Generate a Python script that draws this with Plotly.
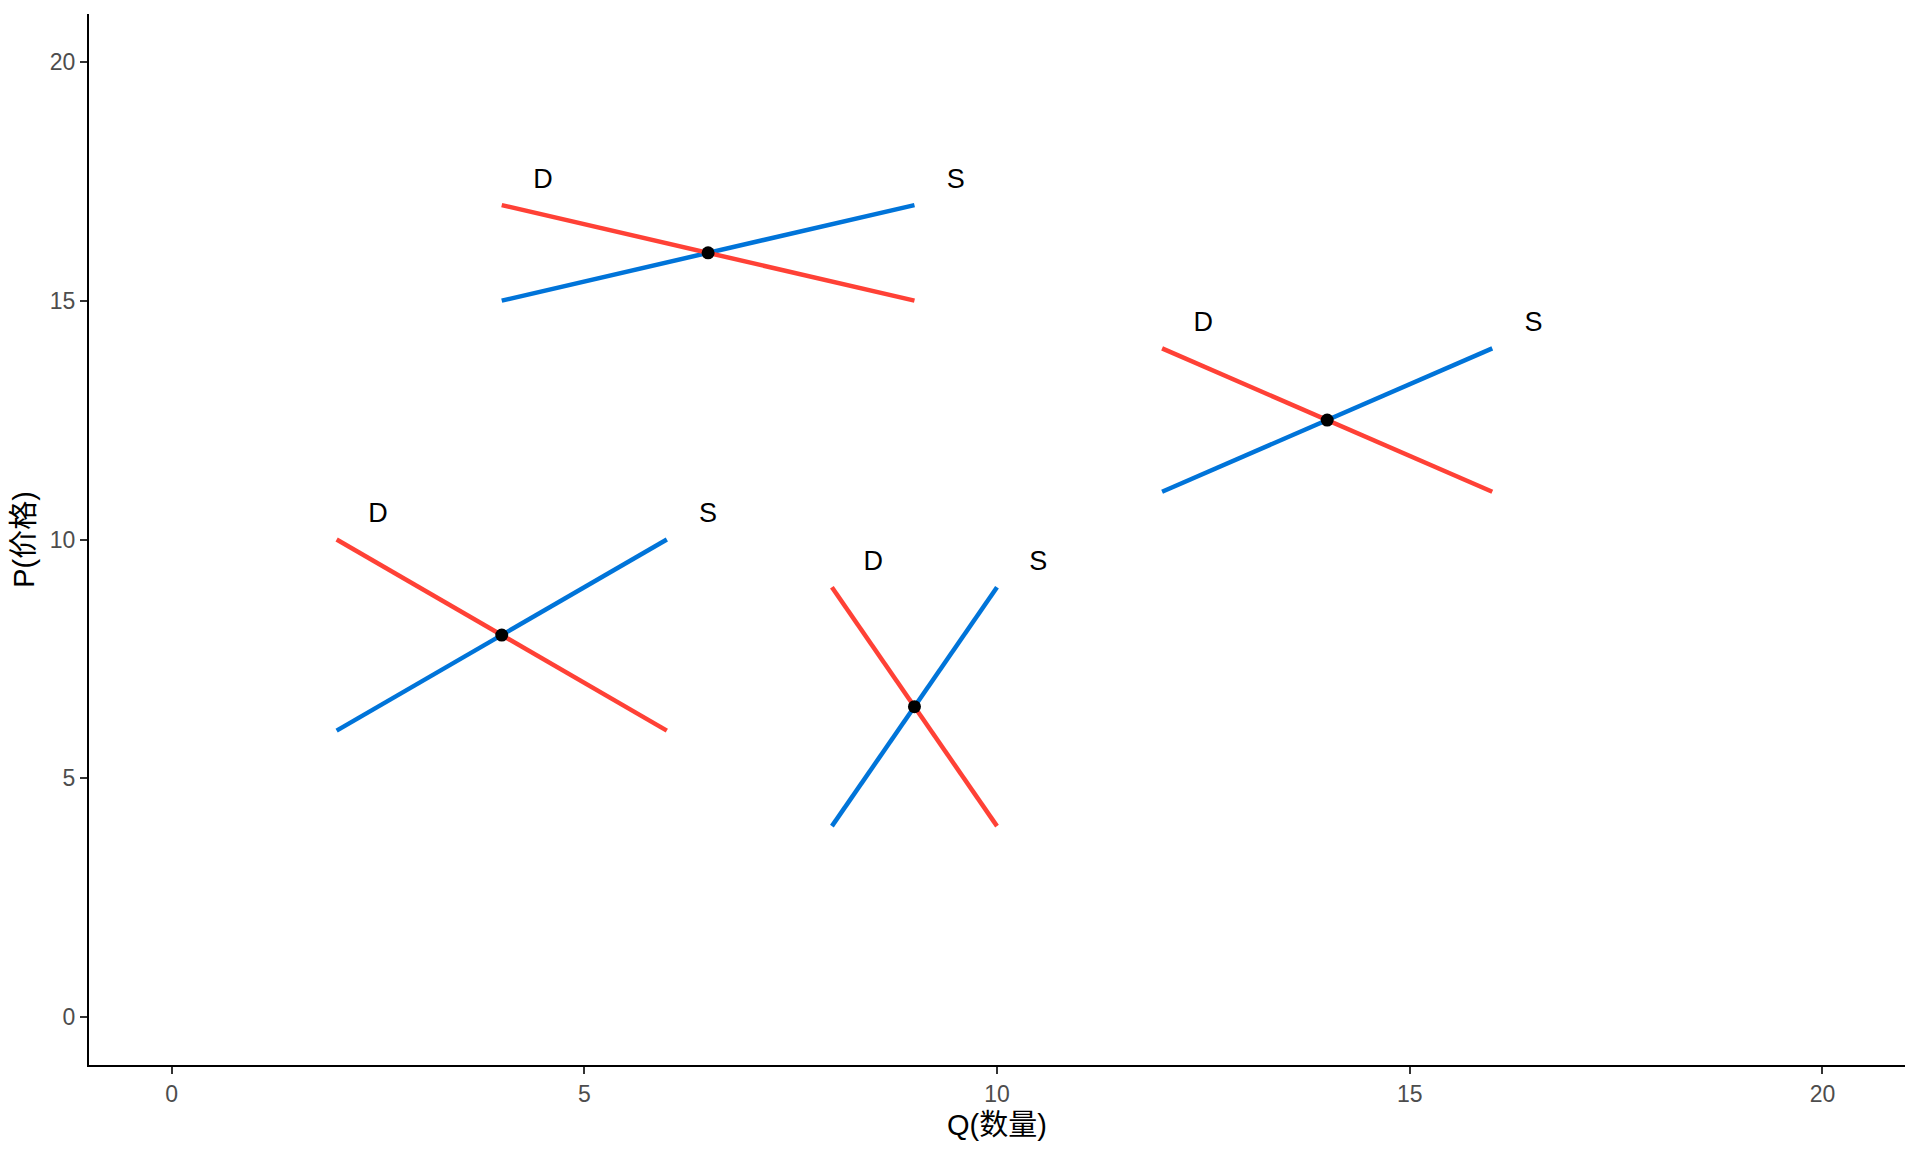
import plotly.graph_objects as go

# Demand curves: start/end points (Q, P)
d_q0 = [4, 12, 2, 8]
d_p0 = [17, 14, 10, 9]
d_q1 = [9, 16, 6, 10]
d_p1 = [15, 11, 6, 4]

# Supply curves: start/end points (Q, P)
s_q0 = [4, 12, 2, 8]
s_p0 = [15, 11, 6, 4]
s_q1 = [9, 16, 6, 10]
s_p1 = [17, 14, 10, 9]

# Equilibrium points
eq_q = [6.5, 14, 4, 9]
eq_p = [16, 12.5, 8, 6.5]

# Curve labels
d_lab_q = [4.5, 12.5, 2.5, 8.5]
d_lab_p = [17.5, 14.5, 10.5, 9.5]
s_lab_q = [9.5, 16.5, 6.5, 10.5]
s_lab_p = [17.5, 14.5, 10.5, 9.5]

ticks = [0, 5, 10, 15, 20]

RED = "#FF4136"
BLUE = "#0074D9"
FONT = "Liberation Sans, Arial, Noto Sans CJK SC"


def seg(a0, a1):
    out = []
    for u, v in zip(a0, a1):
        out += [u, v, None]
    return out


fig = go.Figure()
fig.add_trace(go.Scatter(x=seg(s_q0, s_q1), y=seg(s_p0, s_p1), mode="lines",
                         line=dict(color=BLUE, width=4.5), hoverinfo="skip"))
fig.add_trace(go.Scatter(x=seg(d_q0, d_q1), y=seg(d_p0, d_p1), mode="lines",
                         line=dict(color=RED, width=4.5), hoverinfo="skip"))
fig.add_trace(go.Scatter(x=eq_q, y=eq_p, mode="markers",
                         marker=dict(color="black", size=13)))
fig.add_trace(go.Scatter(x=d_lab_q, y=d_lab_p, mode="text", text=["D"] * len(d_lab_q),
                         textfont=dict(size=27, color="black", family=FONT)))
fig.add_trace(go.Scatter(x=s_lab_q, y=s_lab_p, mode="text", text=["S"] * len(s_lab_q),
                         textfont=dict(size=27, color="black", family=FONT)))

axis_common = dict(
    showgrid=False, zeroline=False, showline=True, linecolor="black", linewidth=2,
    ticks="outside", ticklen=7, tickwidth=2, tickcolor="#333333",
    tickfont=dict(size=23, color="#4D4D4D", family=FONT),
    tickvals=ticks, ticktext=[str(t) for t in ticks],
)

fig.update_layout(
    width=1912, height=1144,
    paper_bgcolor="white", plot_bgcolor="white",
    showlegend=False,
    margin=dict(l=81, r=15, t=6, b=87),
    font=dict(family=FONT),
    xaxis=dict(range=[-1, 21], title=dict(text="Q(数量)", font=dict(size=29, color="black", family=FONT), standoff=9),
               **axis_common),
    yaxis=dict(range=[-1, 21], title=dict(text="P(价格)", font=dict(size=29, color="black", family=FONT), standoff=8),
               **axis_common),
)

fig.write_html("out.html")
